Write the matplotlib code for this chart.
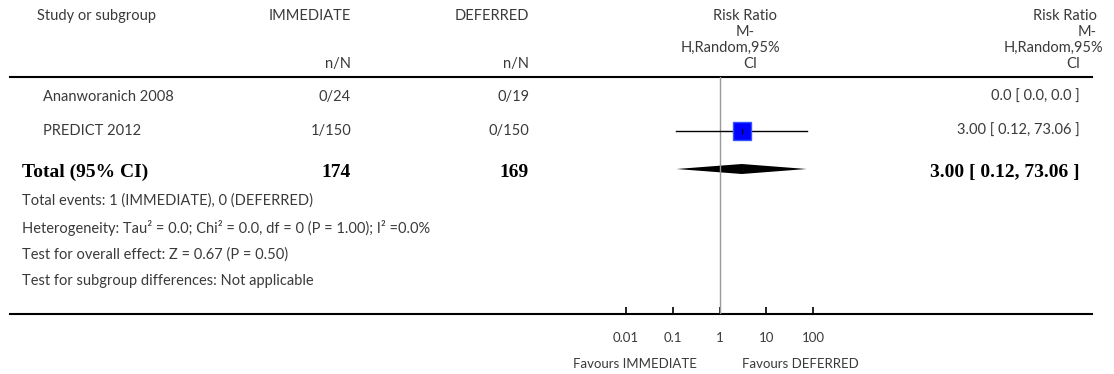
import numpy as np
import matplotlib
matplotlib.use("Agg")
import matplotlib.pyplot as plt

# data
studies = ["Ananworanich 2008", "PREDICT 2012"]
immediate = ["0/24", "1/150"]
deferred = ["0/19", "0/150"]
rr = [np.nan, 3.00]
rr_lo = [np.nan, 0.12]
rr_hi = [np.nan, 73.06]
rr_text = ["0.0 [ 0.0, 0.0 ]", "3.00 [ 0.12, 73.06 ]"]
total_imm, total_def = 174, 169
total_rr, total_lo, total_hi = 3.00, 0.12, 73.06
footer = [
    "Total events: 1 (IMMEDIATE), 0 (DEFERRED)",
    "Heterogeneity: Tau² = 0.0; Chi² = 0.0, df = 0 (P = 1.00); I² =0.0%",
    "Test for overall effect: Z = 0.67 (P = 0.50)",
    "Test for subgroup differences: Not applicable",
]
ticks = [0.01, 0.1, 1, 10, 100]
tick_labels = ["0.01", "0.1", "1", "10", "100"]

W, H = 1114, 374
sans = "Lato"
serif = "Liberation Serif"
grey = "#3a3a3a"
fs = 10.5

fig = plt.figure(figsize=(W / 100, H / 100), dpi=100)
bg = fig.add_axes([0, 0, 1, 1])
bg.set_xlim(0, W)
bg.set_ylim(H, 0)
bg.axis("off")

def txt(x, y, s, ha="left", size=fs, family=sans, weight="normal", color=grey):
    bg.text(x, y, s, ha=ha, va="center", fontsize=size, family=family,
            fontweight=weight, color=color)

# header
txt(37, 16, "Study or subgroup")
txt(351, 16, "IMMEDIATE", ha="right")
txt(529, 16, "DEFERRED", ha="right")
txt(351, 64, "n/N", ha="right")
txt(529, 64, "n/N", ha="right")
# forest column header
txt(777, 16, "Risk Ratio", ha="right")
txt(755, 32, "M-", ha="right")
txt(780, 48, "H,Random,95%", ha="right")
txt(757, 64, "CI", ha="right")
# estimate column header
txt(1097, 16, "Risk Ratio", ha="right")
txt(1097, 32, "M-", ha="right")
txt(1103, 48, "H,Random,95%", ha="right")
txt(1080, 64, "CI", ha="right")

bg.plot([10, 1092], [77, 77], color="black", lw=1.5)
bg.plot([10, 1092], [314, 314], color="black", lw=1.5)

# study rows
row_y = [97, 131]
for i, y in enumerate(row_y):
    txt(43, y, studies[i])
    txt(351, y, immediate[i], ha="right")
    txt(529, y, deferred[i], ha="right")
    txt(1080, y, rr_text[i], ha="right")

# total row
ty = 172
bold = dict(size=14, family=serif, weight="bold", color="black")
txt(22, ty, "Total (95% CI)", **bold)
txt(351, ty, str(total_imm), ha="right", **bold)
txt(529, ty, str(total_def), ha="right", **bold)
txt(1080, ty, f"{total_rr:.2f} [ {total_lo:.2f}, {total_hi:.2f} ]", ha="right", **bold)

for i, s in enumerate(footer):
    txt(22, 201 + 26.7 * i, s)

# forest plot axes
x0, x1 = 626, 813
ax = fig.add_axes([x0 / W, (H - 314) / H, (x1 - x0) / W, (314 - 77) / H])
ax.set_xscale("log")
ax.set_xlim(0.01, 100)
ax.set_ylim(314, 77)
ax.patch.set_alpha(0)
for sp in ax.spines.values():
    sp.set_visible(False)
ax.set_yticks([])
ax.set_xticks(ticks)
ax.set_xticklabels(tick_labels, fontsize=9.5, family=sans, color=grey)
ax.minorticks_off()
ax.tick_params(axis="x", direction="in", length=5, width=1.2, pad=13)

ax.axvline(1, color="#999999", lw=1)

for i, y in enumerate(row_y):
    if np.isnan(rr[i]):
        continue
    ax.plot([rr_lo[i], rr_hi[i]], [y, y], color="black", lw=1)
    ax.plot(rr[i], y, marker="s", ms=13.5, color="#0000ff", mec="#3355ff")
    ax.plot(rr[i], y, marker="|", ms=4, color="black", mew=0.8)

ax.fill([total_lo, total_rr, total_hi, total_rr], [ty - 3, ty - 8, ty - 3, ty + 2],
        color="black", lw=0)

bg.text(697, 364, "Favours IMMEDIATE", ha="right", va="center", fontsize=9.5,
        family=sans, color=grey)
bg.text(742, 364, "Favours DEFERRED", ha="left", va="center", fontsize=9.5,
        family=sans, color=grey)

fig.savefig("out.png", dpi=100)
